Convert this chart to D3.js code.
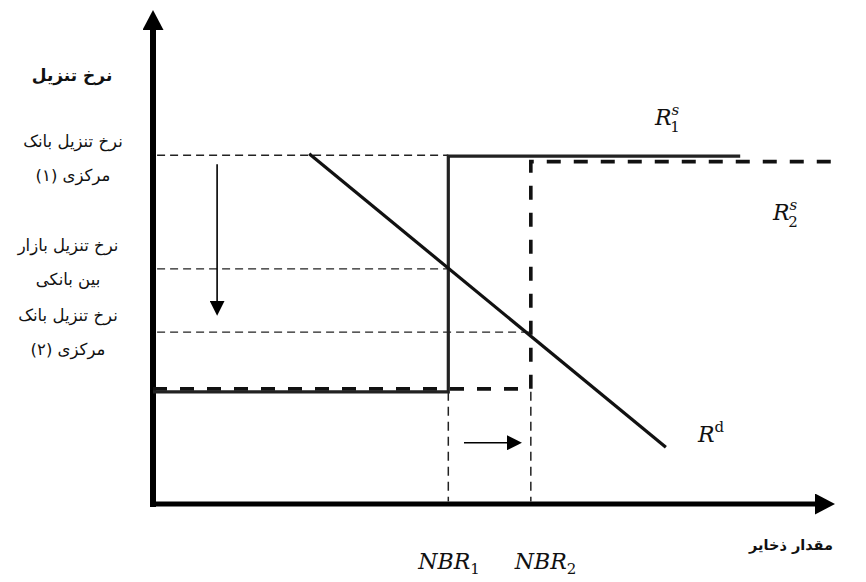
<!DOCTYPE html>
<html lang="fa">
<head>
<meta charset="UTF-8">
<title>نرخ تنزیل و مقدار ذخایر</title>
<script src="https://d3js.org/d3.v7.min.js"></script>
<style>
  body { margin: 0; background: #fff; }
  svg { display: block; }
  .fa { font-family: "DejaVu Sans", sans-serif; direction: rtl; fill: #111; }
  .math { font-family: "DejaVu Serif", serif; font-style: italic; fill: #111; }
</style>
</head>
<body>
<svg width="866" height="582"></svg>
<script>
// منحنی‌ها (واحدهای نمودار: مقدار ذخایر 0..100، نرخ 0..100)
const supply1 = [[0, 22.7], [43.3, 22.7], [43.3, 70.4], [86.1, 70.4]];
const supply2 = [[0, 23.3], [55.4, 23.3], [55.4, 69.3], [99.7, 69.3]];
const demand = [[22.9, 70.9], [75.2, 11.5]];
const nbrValues = [43.3, 55.4];
const nbrLabels = ["1", "2"];
// خطوط راهنمای افقی: نرخ و نقطه پایان
const guideRates = [70.6, 47.6, 34.8];
const guideEnds = [43.3, 43.3, 55.4];
const leftLabels = [
  ["نرخ تنزیل بانک", "مرکزی (۱)"],
  ["نرخ تنزیل بازار", "بین بانکی"],
  ["نرخ تنزیل بانک", "مرکزی (۲)"]
];
const rateMove = [[9.4, 68.8], [9.4, 38.1]];
const qtyMove = [[45.6, 12.4], [54.1, 12.4]];

const svg = d3.select("svg");
const x = d3.scaleLinear().domain([0, 100]).range([153, 835]);
const y = d3.scaleLinear().domain([0, 100]).range([504, 10]);
const line = d3.line().x(d => x(d[0])).y(d => y(d[1]));

// سرپیکان‌ها
const defs = svg.append("defs");
function marker(id, len, wid) {
  defs.append("marker")
    .attr("id", id)
    .attr("viewBox", `0 0 ${len} ${wid}`)
    .attr("refX", 2).attr("refY", wid / 2)
    .attr("markerWidth", len).attr("markerHeight", wid)
    .attr("markerUnits", "userSpaceOnUse")
    .attr("orient", "auto")
    .append("path")
    .attr("d", `M0,0L${len},${wid / 2}L0,${wid}Z`)
    .attr("fill", "#000");
}
marker("big", 20, 21);
marker("small", 15, 15);

// محورها
svg.append("path")
  .attr("d", `M${x(0)},${y(0) + 3}V${y(100) + 18}`)
  .attr("stroke", "#000").attr("stroke-width", 6)
  .attr("marker-end", "url(#big)");
svg.append("path")
  .attr("d", `M${x(0) - 3},${y(0)}H${x(100) - 18}`)
  .attr("stroke", "#000").attr("stroke-width", 5)
  .attr("marker-end", "url(#big)");

// خطوط راهنمای نازک
svg.selectAll(".guide")
  .data(guideRates)
  .join("path")
  .attr("class", "guide")
  .attr("d", (r, i) => line([[0.6, r], [guideEnds[i], r]]))
  .attr("fill", "none").attr("stroke", "#222")
  .attr("stroke-width", 1.3).attr("stroke-dasharray", "8,5");

svg.selectAll(".vguide")
  .data(nbrValues)
  .join("path")
  .attr("class", "vguide")
  .attr("d", v => line([[v, 22.7], [v, 0.5]]))
  .attr("fill", "none").attr("stroke", "#222")
  .attr("stroke-width", 1.5).attr("stroke-dasharray", "9,6");

// عرضه ۲ (خط‌چین ضخیم)
svg.append("path")
  .attr("d", line(supply2))
  .attr("fill", "none").attr("stroke", "#111")
  .attr("stroke-width", 3.6).attr("stroke-dasharray", "14,13");

// عرضه ۱
svg.append("path")
  .attr("d", line(supply1))
  .attr("fill", "none").attr("stroke", "#222")
  .attr("stroke-width", 3.2);

// تقاضا
svg.append("path")
  .attr("d", line(demand))
  .attr("fill", "none").attr("stroke", "#111")
  .attr("stroke-width", 3.2);

// پیکان‌های تغییر
svg.append("path")
  .attr("d", `M${x(rateMove[0][0])},${y(rateMove[0][1])}V${y(rateMove[1][1]) - 13}`)
  .attr("stroke", "#000").attr("stroke-width", 1.6)
  .attr("marker-end", "url(#small)");
svg.append("path")
  .attr("d", `M${x(qtyMove[0][0])},${y(qtyMove[0][1])}H${x(qtyMove[1][0]) - 13}`)
  .attr("stroke", "#000").attr("stroke-width", 1.6)
  .attr("marker-end", "url(#small)");

// عنوان محورها
svg.append("text").attr("class", "fa")
  .attr("x", 72).attr("y", 81)
  .attr("text-anchor", "middle")
  .style("font-size", "17px").style("font-weight", "bold")
  .text("نرخ تنزیل");
svg.append("text").attr("class", "fa")
  .attr("x", 833).attr("y", 550)
  .attr("text-anchor", "start")
  .style("font-size", "14.5px").style("font-weight", "bold")
  .text("مقدار ذخایر");

// برچسب‌های نرخ
const labelTop = [147, 251, 321];
const labelX = [73, 68, 68];
leftLabels.forEach((pair, i) => {
  pair.forEach((t, j) => {
    svg.append("text").attr("class", "fa")
      .attr("x", labelX[i]).attr("y", labelTop[i] + j * 34)
      .attr("text-anchor", "middle")
      .style("font-size", "16.5px")
      .text(t);
  });
});

// برچسب‌های ریاضی
function mathLabel(px, py, base, sub, sup, upright) {
  const t = svg.append("text").attr("class", "math")
    .attr("x", px).attr("y", py).style("font-size", "22px");
  t.append("tspan").text(base);
  if (sup) {
    const s = t.append("tspan").attr("dy", -10).style("font-size", "15px").text(sup);
    if (upright) s.style("font-style", "normal");
  }
  if (sub) {
    t.append("tspan")
      .attr("dx", sup ? -9 : 0)
      .attr("dy", sup ? 17 : 5)
      .style("font-size", "15px").style("font-style", "normal")
      .text(sub);
  }
}
const nbrShift = [-30, -16];
nbrValues.forEach((v, i) => mathLabel(x(v) + nbrShift[i], 569, "NBR", nbrLabels[i]));
mathLabel(655, 125, "R", "1", "s");
mathLabel(773, 220, "R", "2", "s");
mathLabel(698, 442, "R", null, "d", true);
</script>
</body>
</html>
